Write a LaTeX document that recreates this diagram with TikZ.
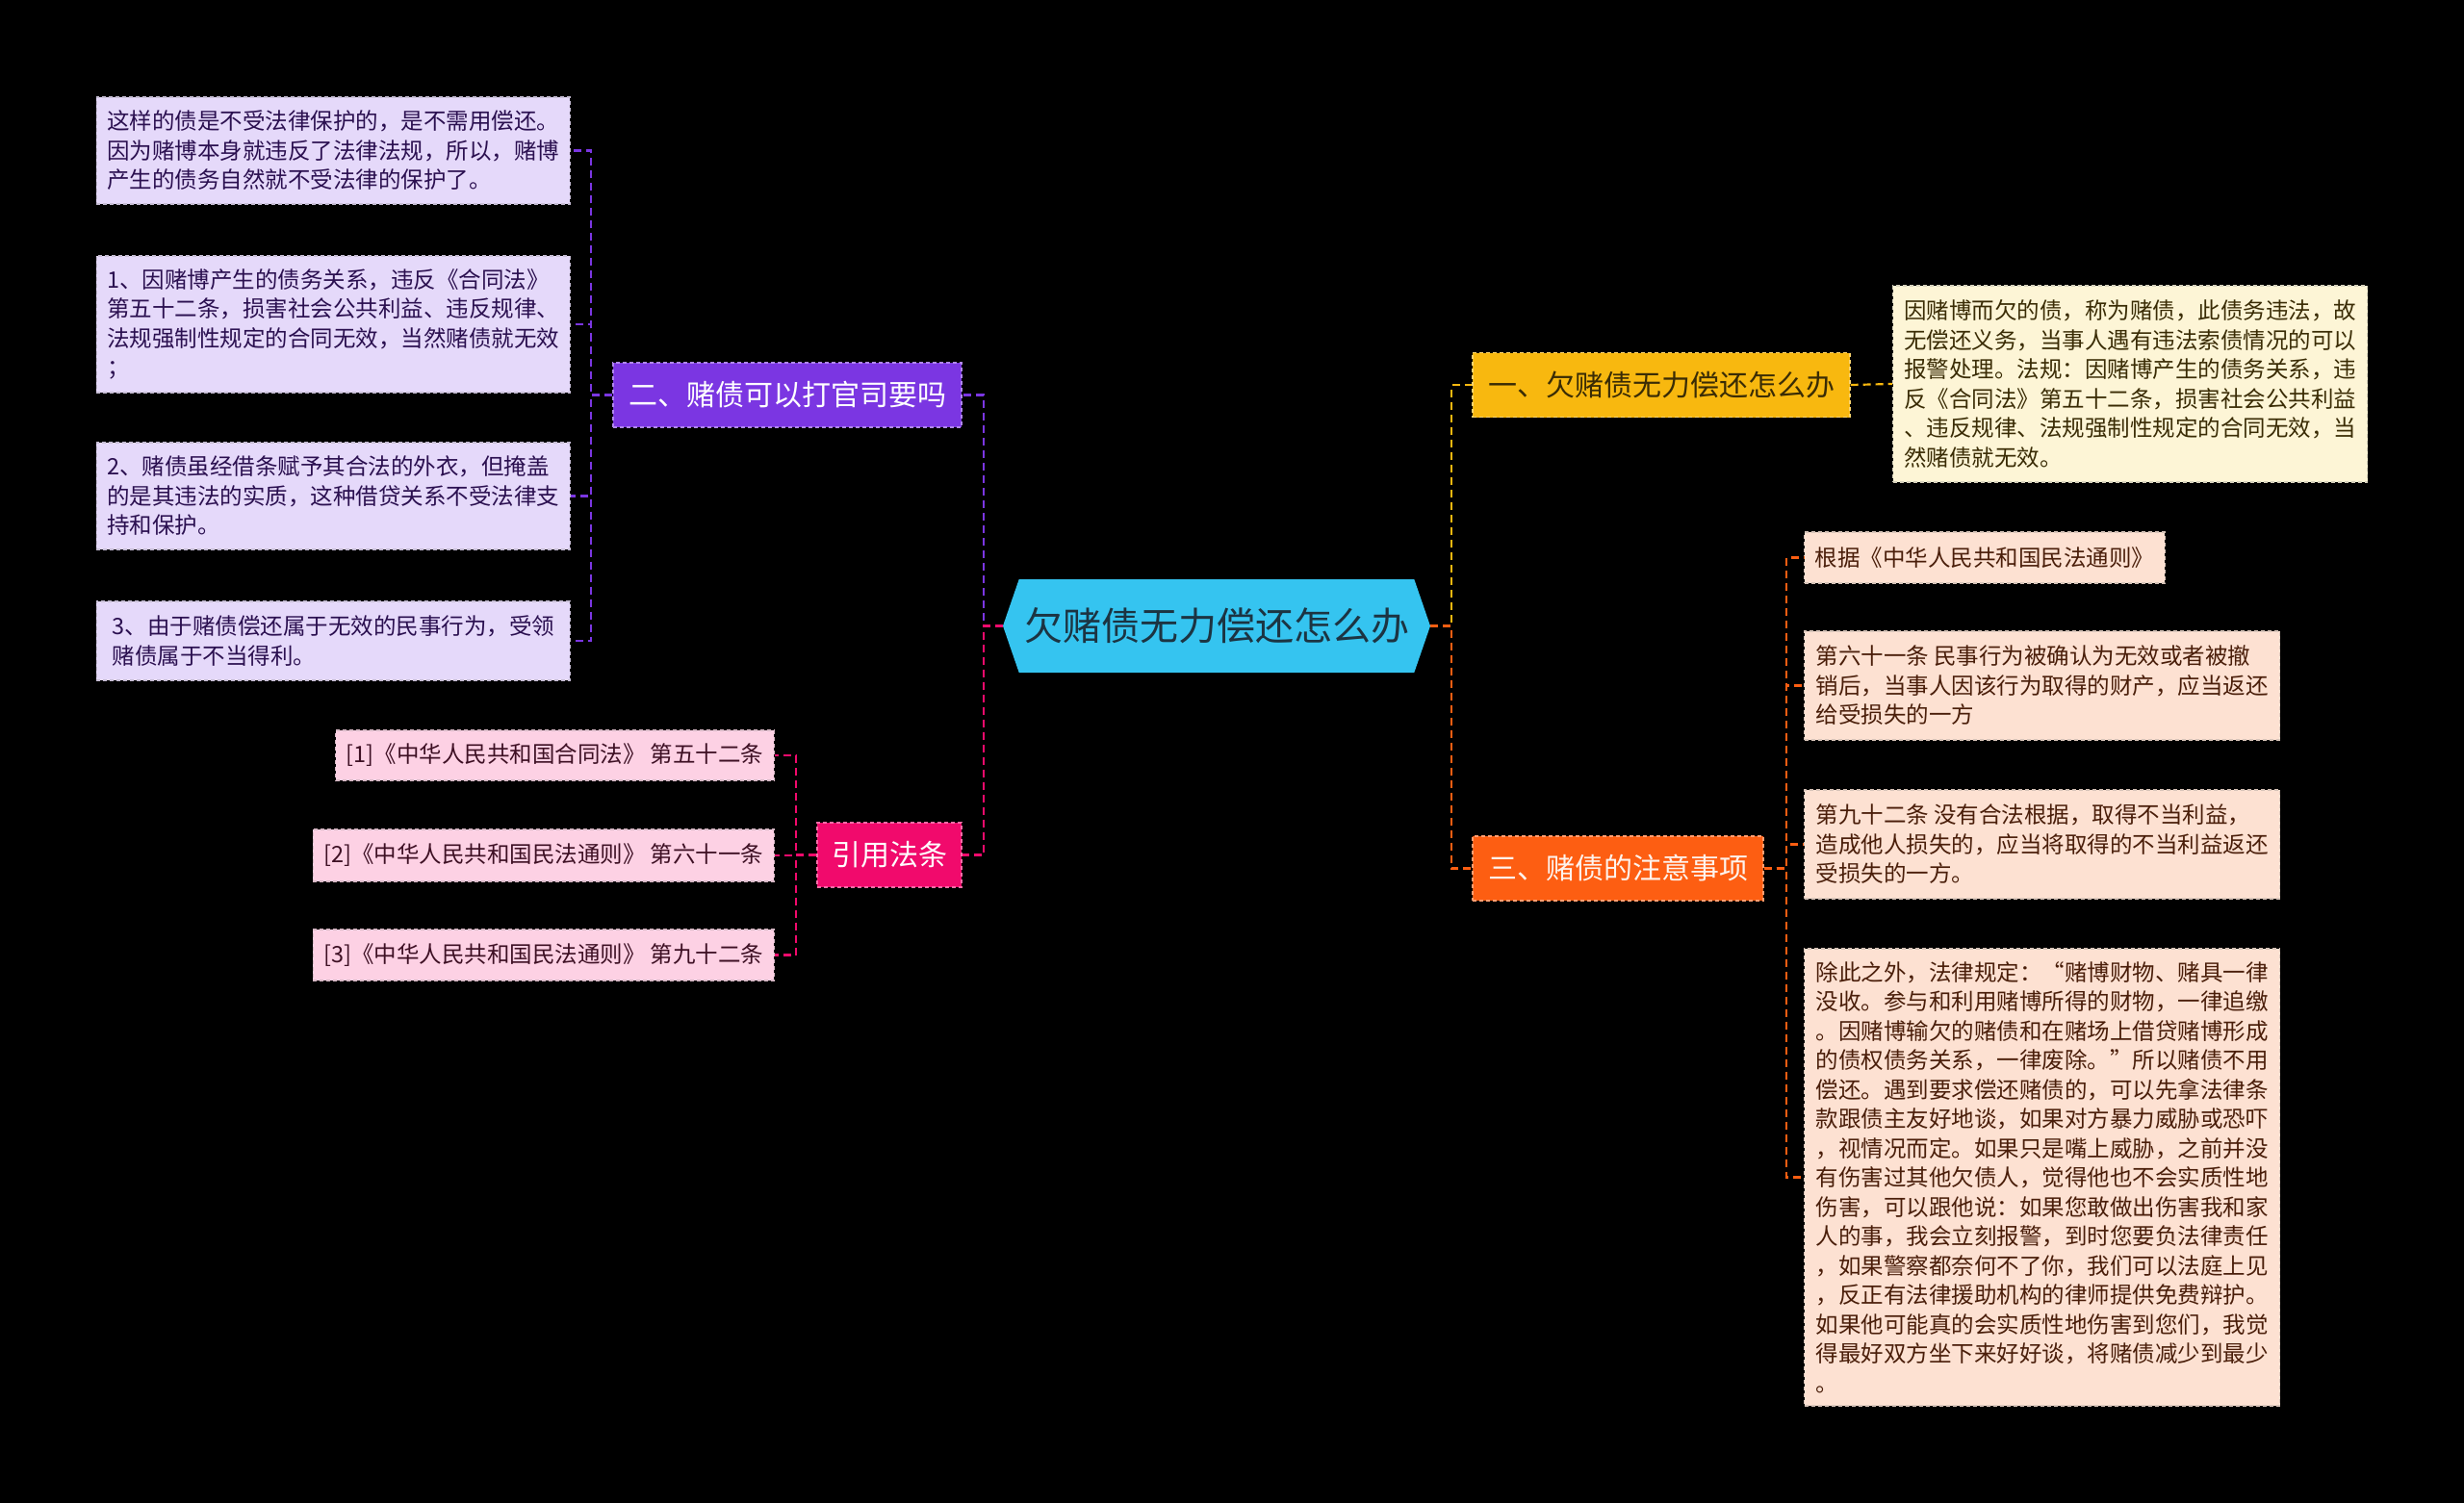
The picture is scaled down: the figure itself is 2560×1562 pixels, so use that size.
\documentclass[tikz,border=0pt]{standalone}
\usepackage{fontspec}
\setmainfont{Noto Sans CJK SC}
\usetikzlibrary{shapes.symbols}

\definecolor{rootfill}{HTML}{35C4F0}
\definecolor{roottext}{HTML}{1C3442}
\definecolor{yellowfill}{HTML}{F8B80F}
\definecolor{yellowleaf}{HTML}{FDF5D6}
\definecolor{yellowtext}{HTML}{3A2C05}
\definecolor{orangefill}{HTML}{FD5E12}
\definecolor{orangeleaf}{HTML}{FDE1D2}
\definecolor{orangetext}{HTML}{4A1E0A}
\definecolor{purplefill}{HTML}{7B36E2}
\definecolor{purpleleaf}{HTML}{E5D9FA}
\definecolor{purpletext}{HTML}{2B1050}
\definecolor{pinkfill}{HTML}{F10A6C}
\definecolor{pinkleaf}{HTML}{FDD1E4}
\definecolor{pinktext}{HTML}{3E1024}

\begin{document}
\begin{tikzpicture}[x=1pt,y=-1pt]
% estilos
\tikzset{
  root node/.style={signal, signal to=west and east, signal pointer angle=142, fill=rootfill, text=roottext,
    minimum width=444pt, minimum height=97pt, inner sep=0pt, font=\fontsize{40}{48}\selectfont},
  branch node/.style={rectangle, draw, dash pattern=on 4pt off 3pt, line width=1.3pt, minimum height=67pt,
    inner xsep=10pt, font=\fontsize{30}{36}\selectfont},
  leaf node/.style={rectangle, draw, dash pattern=on 4pt off 3pt, line width=1.3pt, align=left,
    inner xsep=11pt, font=\fontsize{23.5}{30.5}\selectfont},
  link/.style={line width=2.2pt, dash pattern=on 8pt off 5pt},
}

\fill[black] (0,0) rectangle (2560,1562);

% centro
\node[root node] (root) at (1264,650.5) {欠赌债无力偿还怎么办};

% lado direito
\node[branch node, fill=yellowfill, draw=yellowfill!60!white, text=yellowtext, minimum width=392pt] (b1) at (1726,400) {一、欠赌债无力偿还怎么办};
\node[leaf node, fill=yellowleaf, draw=yellowleaf!70!gray, text=yellowtext, minimum width=493pt, minimum height=204pt, anchor=west] (a1) at (1966,399)
  {因赌博而欠的债，称为赌债，此债务违法，故\\无偿还义务，当事人遇有违法索债情况的可以\\报警处理。法规：因赌博产生的债务关系，违\\反《合同法》第五十二条，损害社会公共利益\\、违反规律、法规强制性规定的合同无效，当\\然赌债就无效。};

\node[branch node, fill=orangefill, draw=orangefill!60!white, text=orangeleaf!40!white, minimum width=302pt] (b3) at (1681,902.5) {三、赌债的注意事项};
\node[leaf node, fill=orangeleaf, draw=orangeleaf!70!gray, text=orangetext, minimum height=53pt, anchor=west] (c1) at (1874,579.5) {根据《中华人民共和国民法通则》};
\node[leaf node, fill=orangeleaf, draw=orangeleaf!70!gray, text=orangetext, minimum width=494pt, minimum height=113pt, anchor=west] (c2) at (1874,712.5)
  {第六十一条 民事行为被确认为无效或者被撤\\销后，当事人因该行为取得的财产，应当返还\\给受损失的一方};
\node[leaf node, fill=orangeleaf, draw=orangeleaf!70!gray, text=orangetext, minimum width=494pt, minimum height=113pt, anchor=west] (c3) at (1874,877.5)
  {第九十二条 没有合法根据，取得不当利益，\\造成他人损失的，应当将取得的不当利益返还\\受损失的一方。};
\node[leaf node, fill=orangeleaf, draw=orangeleaf!70!gray, text=orangetext, minimum width=494pt, minimum height=475pt, anchor=west] (c4) at (1874,1223.5)
  {除此之外，法律规定：“赌博财物、赌具一律\\没收。参与和利用赌博所得的财物，一律追缴\\。因赌博输欠的赌债和在赌场上借贷赌博形成\\的债权债务关系，一律废除。”所以赌债不用\\偿还。遇到要求偿还赌债的，可以先拿法律条\\款跟债主友好地谈，如果对方暴力威胁或恐吓\\，视情况而定。如果只是嘴上威胁，之前并没\\有伤害过其他欠债人，觉得他也不会实质性地\\伤害，可以跟他说：如果您敢做出伤害我和家\\人的事，我会立刻报警，到时您要负法律责任\\，如果警察都奈何不了你，我们可以法庭上见\\，反正有法律援助机构的律师提供免费辩护。\\如果他可能真的会实质性地伤害到您们，我觉\\得最好双方坐下来好好谈，将赌债减少到最少\\。};

% lado esquerdo
\node[branch node, fill=purplefill, draw=purplefill!60!white, text=white, minimum width=362pt] (b2) at (818,410.5) {二、赌债可以打官司要吗};
\node[leaf node, fill=purpleleaf, draw=purpleleaf!70!gray, text=purpletext, minimum width=492pt, minimum height=111pt, anchor=east] (d1) at (593,156.5)
  {这样的债是不受法律保护的，是不需用偿还。\\因为赌博本身就违反了法律法规，所以，赌博\\产生的债务自然就不受法律的保护了。};
\node[leaf node, fill=purpleleaf, draw=purpleleaf!70!gray, text=purpletext, minimum width=492pt, minimum height=142pt, anchor=east] (d2) at (593,337)
  {1、因赌博产生的债务关系，违反《合同法》\\第五十二条，损害社会公共利益、违反规律、\\法规强制性规定的合同无效，当然赌债就无效\\；};
\node[leaf node, fill=purpleleaf, draw=purpleleaf!70!gray, text=purpletext, minimum width=492pt, minimum height=111pt, anchor=east] (d3) at (593,515.5)
  {2、赌债虽经借条赋予其合法的外衣，但掩盖\\的是其违法的实质，这种借贷关系不受法律支\\持和保护。};
\node[leaf node, fill=purpleleaf, draw=purpleleaf!70!gray, text=purpletext, minimum width=492pt, minimum height=82pt, anchor=east] (d4) at (593,666)
  {3、由于赌债偿还属于无效的民事行为，受领\\赌债属于不当得利。};

\node[branch node, fill=pinkfill, draw=pinkfill!60!white, text=white, minimum width=150pt] (b4) at (924,888.5) {引用法条};
\node[leaf node, fill=pinkleaf, draw=pinkleaf!70!gray, text=pinktext, minimum height=52pt, anchor=east] (e1) at (805,785) {[1]《中华人民共和国合同法》 第五十二条};
\node[leaf node, fill=pinkleaf, draw=pinkleaf!70!gray, text=pinktext, minimum height=54pt, anchor=east] (e2) at (805,889) {[2]《中华人民共和国民法通则》 第六十一条};
\node[leaf node, fill=pinkleaf, draw=pinkleaf!70!gray, text=pinktext, minimum height=53pt, anchor=east] (e3) at (805,992.5) {[3]《中华人民共和国民法通则》 第九十二条};

% ligações
\draw[link, yellowfill] (root.east) -- ++(22,0) |- (b1.west);
\draw[link, orangefill] (root.east) -- ++(22,0) |- (b3.west);
\draw[link, purplefill] (root.west) -- ++(-20,0) |- (b2.east);
\draw[link, pinkfill] (root.west) -- ++(-20,0) |- (b4.east);

\draw[link, yellowfill] (b1.east) -- (a1.west);
\foreach \n in {c1,c2,c3,c4}
  \draw[link, orangefill] (b3.east) -- ++(23,0) |- (\n.west);
\foreach \n in {d1,d2,d3,d4}
  \draw[link, purplefill] (b2.west) -- ++(-22,0) |- (\n.east);
\foreach \n in {e1,e2,e3}
  \draw[link, pinkfill] (b4.west) -- ++(-21,0) |- (\n.east);

\end{tikzpicture}
\end{document}
